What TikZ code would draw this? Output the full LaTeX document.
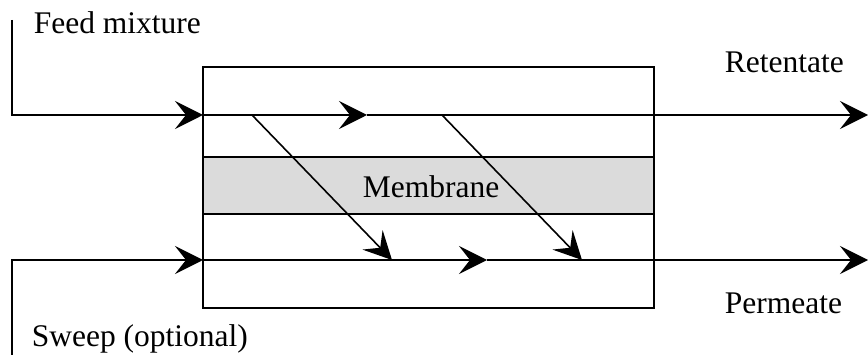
\documentclass[tikz,border=0pt]{standalone}
\usepackage{fontspec}
\setmainfont{Liberation Serif}
\usetikzlibrary{arrows.meta}
\begin{document}
\begin{tikzpicture}[x=1pt,y=-1pt,line width=1.6pt,
  tip/.style={-{Stealth[length=28pt,width=28pt,inset=11pt]}},
  label/.style={inner sep=0pt,anchor=base west,font=\fontsize{31.5}{38}\selectfont},
  box/.style={draw,inner sep=0pt,outer sep=0pt}]
\useasboundingbox (0,0) rectangle (868,355);

% module housing and membrane
\node[box,minimum width=451pt,minimum height=241pt] (module) at (428.5,187.5) {};
\node[box,fill=gray!28,minimum width=451pt,minimum height=57pt] (membrane) at (428.5,185.5) {};
\node[label] (memlabel) at (362,198) {Membrane};

% feed side
\coordinate (feedtop) at (12,20);
\coordinate (fin) at (203,115);
\coordinate (r1) at (367,115);
\coordinate (rout) at (868,115);
\draw[tip] (feedtop) |- (fin);
\draw[tip] (fin) -- (r1);
\draw[tip] (r1) -- (rout);

% permeate side
\coordinate (sweepbot) at (12,355);
\coordinate (sin) at (203,260);
\coordinate (p1) at (487,260);
\coordinate (pout) at (868,260);
\draw[tip] (sweepbot) |- (sin);
\draw[tip] (sin) -- (p1);
\draw[tip] (p1) -- (pout);

% transport through the membrane
\coordinate (d1a) at (252,115);
\coordinate (d1b) at (392,260);
\coordinate (d2a) at (442,115);
\coordinate (d2b) at (582,260);
\draw[tip] (d1a) -- (d1b);
\draw[tip] (d2a) -- (d2b);

% stream labels
\node[label] (feedlabel) at (33,34) {Feed mixture};
\node[label] (sweeplabel) at (31,347) {Sweep (optional)};
\node[label] (retlabel) at (724,73) {Retentate};
\node[label] (permlabel) at (724,314) {Permeate};
\end{tikzpicture}
\end{document}
